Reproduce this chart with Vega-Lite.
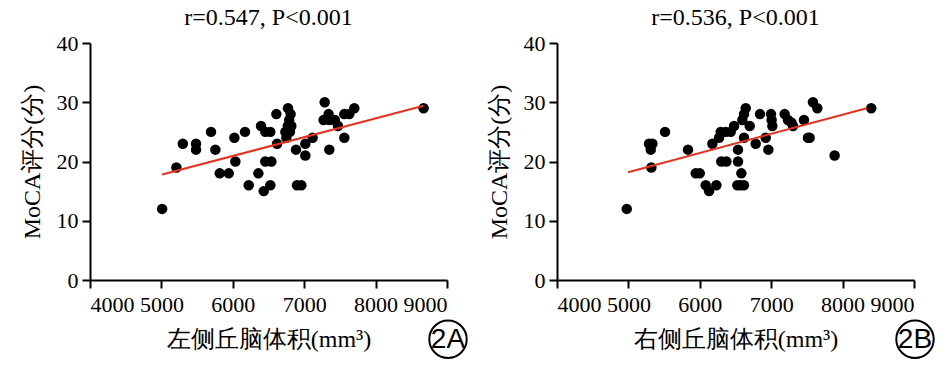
{
  "$schema": "https://vega.github.io/schema/vega-lite/v6.json",
  "background": "white",
  "padding": {"left": 20, "top": 6, "right": 5, "bottom": 2},
  "spacing": 16,
  "datasets": {
    "A": [
      {"vol": 5010, "moca": 12}, {"vol": 5210, "moca": 19}, {"vol": 5300, "moca": 23}, {"vol": 5485, "moca": 23},
      {"vol": 5485, "moca": 22}, {"vol": 5695, "moca": 25}, {"vol": 5756, "moca": 22}, {"vol": 5817, "moca": 18},
      {"vol": 5943, "moca": 18}, {"vol": 6022, "moca": 24}, {"vol": 6036, "moca": 20}, {"vol": 6171, "moca": 25},
      {"vol": 6223, "moca": 16}, {"vol": 6358, "moca": 18}, {"vol": 6395, "moca": 26}, {"vol": 6456, "moca": 25},
      {"vol": 6526, "moca": 25}, {"vol": 6433, "moca": 15}, {"vol": 6526, "moca": 16}, {"vol": 6456, "moca": 20},
      {"vol": 6540, "moca": 20}, {"vol": 6610, "moca": 28}, {"vol": 6620, "moca": 23}, {"vol": 6773, "moca": 29},
      {"vol": 6736, "moca": 25}, {"vol": 6750, "moca": 24}, {"vol": 6770, "moca": 26}, {"vol": 6790, "moca": 27},
      {"vol": 6810, "moca": 28}, {"vol": 6800, "moca": 25}, {"vol": 6820, "moca": 26}, {"vol": 6885, "moca": 22},
      {"vol": 6899, "moca": 16}, {"vol": 6960, "moca": 16}, {"vol": 7016, "moca": 23}, {"vol": 7016, "moca": 21},
      {"vol": 7118, "moca": 24}, {"vol": 7287, "moca": 30}, {"vol": 7272, "moca": 27}, {"vol": 7342, "moca": 28},
      {"vol": 7352, "moca": 27}, {"vol": 7352, "moca": 22}, {"vol": 7473, "moca": 26}, {"vol": 7430, "moca": 27},
      {"vol": 7562, "moca": 28}, {"vol": 7562, "moca": 24}, {"vol": 7632, "moca": 28}, {"vol": 7702, "moca": 29},
      {"vol": 8672, "moca": 29}
    ],
    "fitA": [{"vol": 5010, "moca": 17.8}, {"vol": 8672, "moca": 29.4}],
    "B": [
      {"vol": 4977, "moca": 12}, {"vol": 5289, "moca": 23}, {"vol": 5336, "moca": 23}, {"vol": 5313, "moca": 22},
      {"vol": 5322, "moca": 19}, {"vol": 5513, "moca": 25}, {"vol": 5835, "moca": 22}, {"vol": 5943, "moca": 18},
      {"vol": 6000, "moca": 18}, {"vol": 6083, "moca": 16}, {"vol": 6130, "moca": 15}, {"vol": 6232, "moca": 16},
      {"vol": 6176, "moca": 23}, {"vol": 6270, "moca": 24}, {"vol": 6293, "moca": 25}, {"vol": 6363, "moca": 25},
      {"vol": 6433, "moca": 25}, {"vol": 6480, "moca": 26}, {"vol": 6302, "moca": 20}, {"vol": 6372, "moca": 20},
      {"vol": 6535, "moca": 20}, {"vol": 6535, "moca": 22}, {"vol": 6582, "moca": 18}, {"vol": 6526, "moca": 16},
      {"vol": 6619, "moca": 16}, {"vol": 6572, "moca": 16}, {"vol": 6619, "moca": 24}, {"vol": 6596, "moca": 27},
      {"vol": 6619, "moca": 28}, {"vol": 6643, "moca": 29}, {"vol": 6699, "moca": 26}, {"vol": 6783, "moca": 23},
      {"vol": 6843, "moca": 28}, {"vol": 6923, "moca": 24}, {"vol": 6960, "moca": 22}, {"vol": 6997, "moca": 28},
      {"vol": 7006, "moca": 27}, {"vol": 7016, "moca": 26}, {"vol": 7188, "moca": 28}, {"vol": 7235, "moca": 27},
      {"vol": 7282, "moca": 26.6}, {"vol": 7305, "moca": 26}, {"vol": 7459, "moca": 27}, {"vol": 7515, "moca": 24},
      {"vol": 7538, "moca": 24}, {"vol": 7585, "moca": 30}, {"vol": 7646, "moca": 29}, {"vol": 7888, "moca": 21},
      {"vol": 8401, "moca": 29}
    ],
    "fitB": [{"vol": 4995, "moca": 18.2}, {"vol": 8337, "moca": 29.0}],
    "labA": [{"vol": 9014, "moca": -10, "tag": "2A"}],
    "labB": [{"vol": 9014, "moca": -10, "tag": "2B"}]
  },
  "hconcat": [
    {
      "width": 357,
      "height": 237,
      "title": {"text": "r=0.547, P<0.001"},
      "layer": [
        {
          "data": {"name": "A"},
          "mark": {"type": "point", "filled": true, "shape": "circle", "size": 110, "color": "black", "opacity": 1},
          "encoding": {
            "x": {"field": "vol", "type": "quantitative", "scale": {"domain": [4000, 9000], "nice": false, "zero": false},
                  "axis": {"title": "左侧丘脑体积(mm³)", "values": [4000, 5000, 6000, 7000, 8000, 9000], "format": "d"}},
            "y": {"field": "moca", "type": "quantitative", "scale": {"domain": [0, 40], "nice": false},
                  "axis": {"title": "MoCA评分(分)", "values": [0, 10, 20, 30, 40], "format": "d"}}
          }
        },
        {
          "data": {"name": "fitA"},
          "mark": {"type": "line", "color": "#e8321e", "strokeWidth": 2},
          "encoding": {"x": {"field": "vol", "type": "quantitative"}, "y": {"field": "moca", "type": "quantitative"}}
        },
        {
          "data": {"name": "labA"},
          "mark": {"type": "point", "shape": "circle", "size": 1400, "filled": false, "stroke": "black", "strokeWidth": 2, "opacity": 1},
          "encoding": {"x": {"field": "vol", "type": "quantitative"}, "y": {"field": "moca", "type": "quantitative"}}
        },
        {
          "data": {"name": "labA"},
          "mark": {"type": "text", "font": "Liberation Sans", "fontSize": 28, "color": "black", "dy": 1},
          "encoding": {"x": {"field": "vol", "type": "quantitative"}, "y": {"field": "moca", "type": "quantitative"}, "text": {"field": "tag"}}
        }
      ]
    },
    {
      "width": 357,
      "height": 237,
      "title": {"text": "r=0.536, P<0.001"},
      "layer": [
        {
          "data": {"name": "B"},
          "mark": {"type": "point", "filled": true, "shape": "circle", "size": 110, "color": "black", "opacity": 1},
          "encoding": {
            "x": {"field": "vol", "type": "quantitative", "scale": {"domain": [4000, 9000], "nice": false, "zero": false},
                  "axis": {"title": "右侧丘脑体积(mm³)", "values": [4000, 5000, 6000, 7000, 8000, 9000], "format": "d"}},
            "y": {"field": "moca", "type": "quantitative", "scale": {"domain": [0, 40], "nice": false},
                  "axis": {"title": "MoCA评分(分)", "values": [0, 10, 20, 30, 40], "format": "d"}}
          }
        },
        {
          "data": {"name": "fitB"},
          "mark": {"type": "line", "color": "#e8321e", "strokeWidth": 2},
          "encoding": {"x": {"field": "vol", "type": "quantitative"}, "y": {"field": "moca", "type": "quantitative"}}
        },
        {
          "data": {"name": "labB"},
          "mark": {"type": "point", "shape": "circle", "size": 1400, "filled": false, "stroke": "black", "strokeWidth": 2, "opacity": 1},
          "encoding": {"x": {"field": "vol", "type": "quantitative"}, "y": {"field": "moca", "type": "quantitative"}}
        },
        {
          "data": {"name": "labB"},
          "mark": {"type": "text", "font": "Liberation Sans", "fontSize": 28, "color": "black", "dy": 1},
          "encoding": {"x": {"field": "vol", "type": "quantitative"}, "y": {"field": "moca", "type": "quantitative"}, "text": {"field": "tag"}}
        }
      ]
    }
  ],
  "config": {
    "font": "Liberation Serif",
    "view": {"stroke": null},
    "title": {"fontSize": 24, "fontWeight": "normal", "color": "black", "font": "Liberation Serif", "offset": 2},
    "axis": {
      "grid": false,
      "domainColor": "black", "domainWidth": 2,
      "tickColor": "black", "tickWidth": 2, "tickSize": 8,
      "labelColor": "black", "labelFontSize": 22, "labelFont": "Liberation Serif",
      "titleColor": "black", "titleFontSize": 24, "titleFontWeight": "normal", "titleFont": "Liberation Serif"
    },
    "axisX": {"labelPadding": 6, "titlePadding": 12},
    "axisY": {"labelPadding": 4, "titlePadding": 12}
  }
}
